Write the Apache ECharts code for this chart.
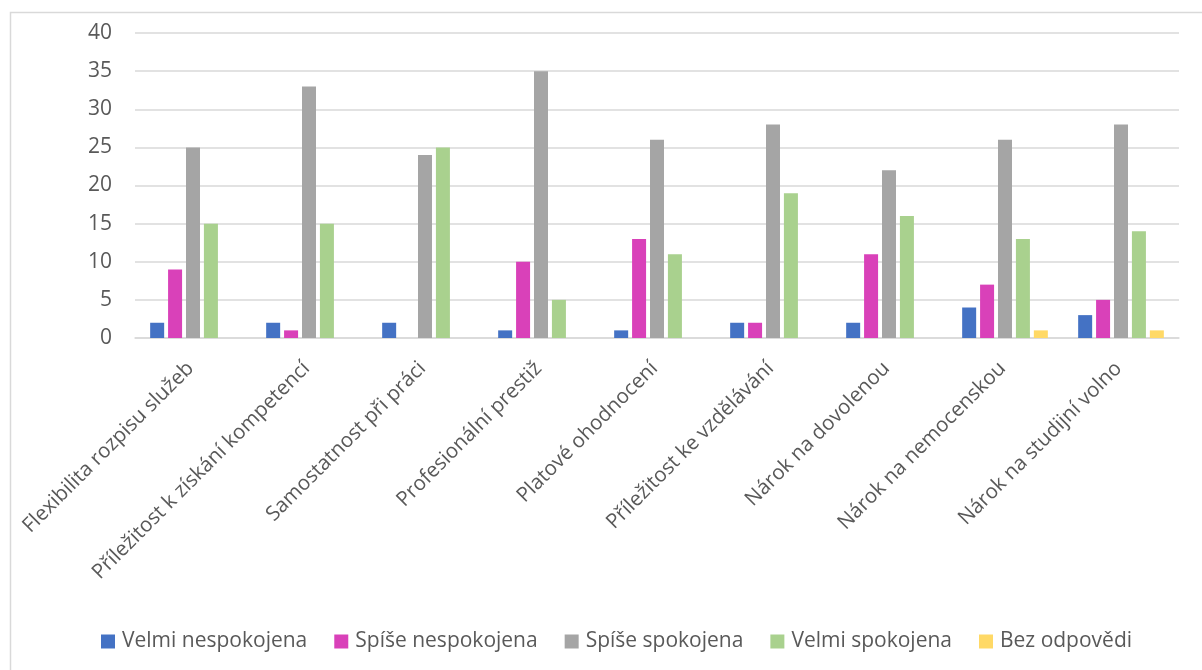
<!DOCTYPE html>
<html>
<head>
<meta charset="utf-8">
<script src="https://cdn.jsdelivr.net/npm/echarts@6/dist/echarts.min.js"></script>
<style>
html, body { margin: 0; padding: 0; background: #fff; }
#chart { width: 1202px; height: 670px; }
</style>
</head>
<body>
<div id="chart"></div>
<script>
const categories = [
    'Flexibilita rozpisu služeb',
    'Příležitost k získání kompetencí',
    'Samostatnost při práci',
    'Profesionální prestiž',
    'Platové ohodnocení',
    'Příležitost ke vzdělávání',
    'Nárok na dovolenou',
    'Nárok na nemocenskou',
    'Nárok na studijní volno'
]
const seriesNames = ['Velmi nespokojena', 'Spíše nespokojena', 'Spíše spokojena', 'Velmi spokojena', 'Bez odpovědi']
const velmiNespokojena = [2, 2, 2, 1, 1, 2, 2, 4, 3]
const spiseNespokojena = [9, 1, 0, 10, 13, 2, 11, 7, 5]
const spiseSpokojena = [25, 33, 24, 35, 26, 28, 22, 26, 28]
const velmiSpokojena = [15, 15, 25, 5, 11, 19, 16, 13, 14]
const bezOdpovedi = [0, 0, 0, 0, 0, 0, 0, 1, 1]
const yTicks = [0, 5, 10, 15, 20, 25, 30, 35, 40]

const colors = ['#4472C4', '#D941B9', '#A5A5A5', '#A9D18E', '#FFD966']
const values = [velmiNespokojena, spiseNespokojena, spiseSpokojena, velmiSpokojena, bezOdpovedi]
const font = '"Open Sans", "DejaVu Sans", sans-serif'

let chart = echarts.init(document.getElementById('chart'))
let option = {
    backgroundColor: '#fff',
    color: colors,
    animation: false,
    textStyle: { fontFamily: font },
    graphic: [
        {
            type: 'rect',
            shape: { x: 10.5, y: 12.5, width: 1200, height: 700 },
            style: { fill: 'none', stroke: '#d9d9d9', lineWidth: 1.5 },
            silent: true
        }
    ],
    legend: {
        top: 626,
        left: 96,
        itemWidth: 14,
        itemHeight: 14,
        itemGap: 27,
        icon: 'rect',
        textStyle: { color: '#595959', fontSize: 21, fontFamily: font, padding: [0, 0, 0, 2] },
        data: seriesNames
    },
    grid: {
        left: 135,
        right: 23,
        top: 33,
        bottom: 332,
        containLabel: false
    },
    xAxis: {
        type: 'category',
        data: categories,
        axisLine: { show: true, lineStyle: { color: '#d9d9d9', width: 1.5 } },
        axisTick: { show: false },
        axisLabel: {
            rotate: 45,
            interval: 0,
            margin: 10,
            padding: [0, 14, 0, 0],
            verticalAlign: 'top',
            color: '#595959',
            fontSize: 20.5,
            fontFamily: font
        }
    },
    yAxis: {
        type: 'value',
        min: yTicks[0],
        max: yTicks[yTicks.length - 1],
        interval: 5,
        axisLine: { show: false },
        axisTick: { show: false },
        splitLine: { lineStyle: { color: '#d9d9d9', width: 1.5 } },
        axisLabel: { color: '#595959', fontSize: 21, margin: 23, fontFamily: font }
    },
    series: seriesNames.map(function (name, i) {
        return {
            name: name,
            type: 'bar',
            data: values[i],
            barWidth: 14,
            barGap: '28%',
            itemStyle: { color: colors[i] }
        }
    })
}
chart.setOption(option)
window.addEventListener('resize', function () {
    chart.resize()
})
</script>
</body>
</html>
